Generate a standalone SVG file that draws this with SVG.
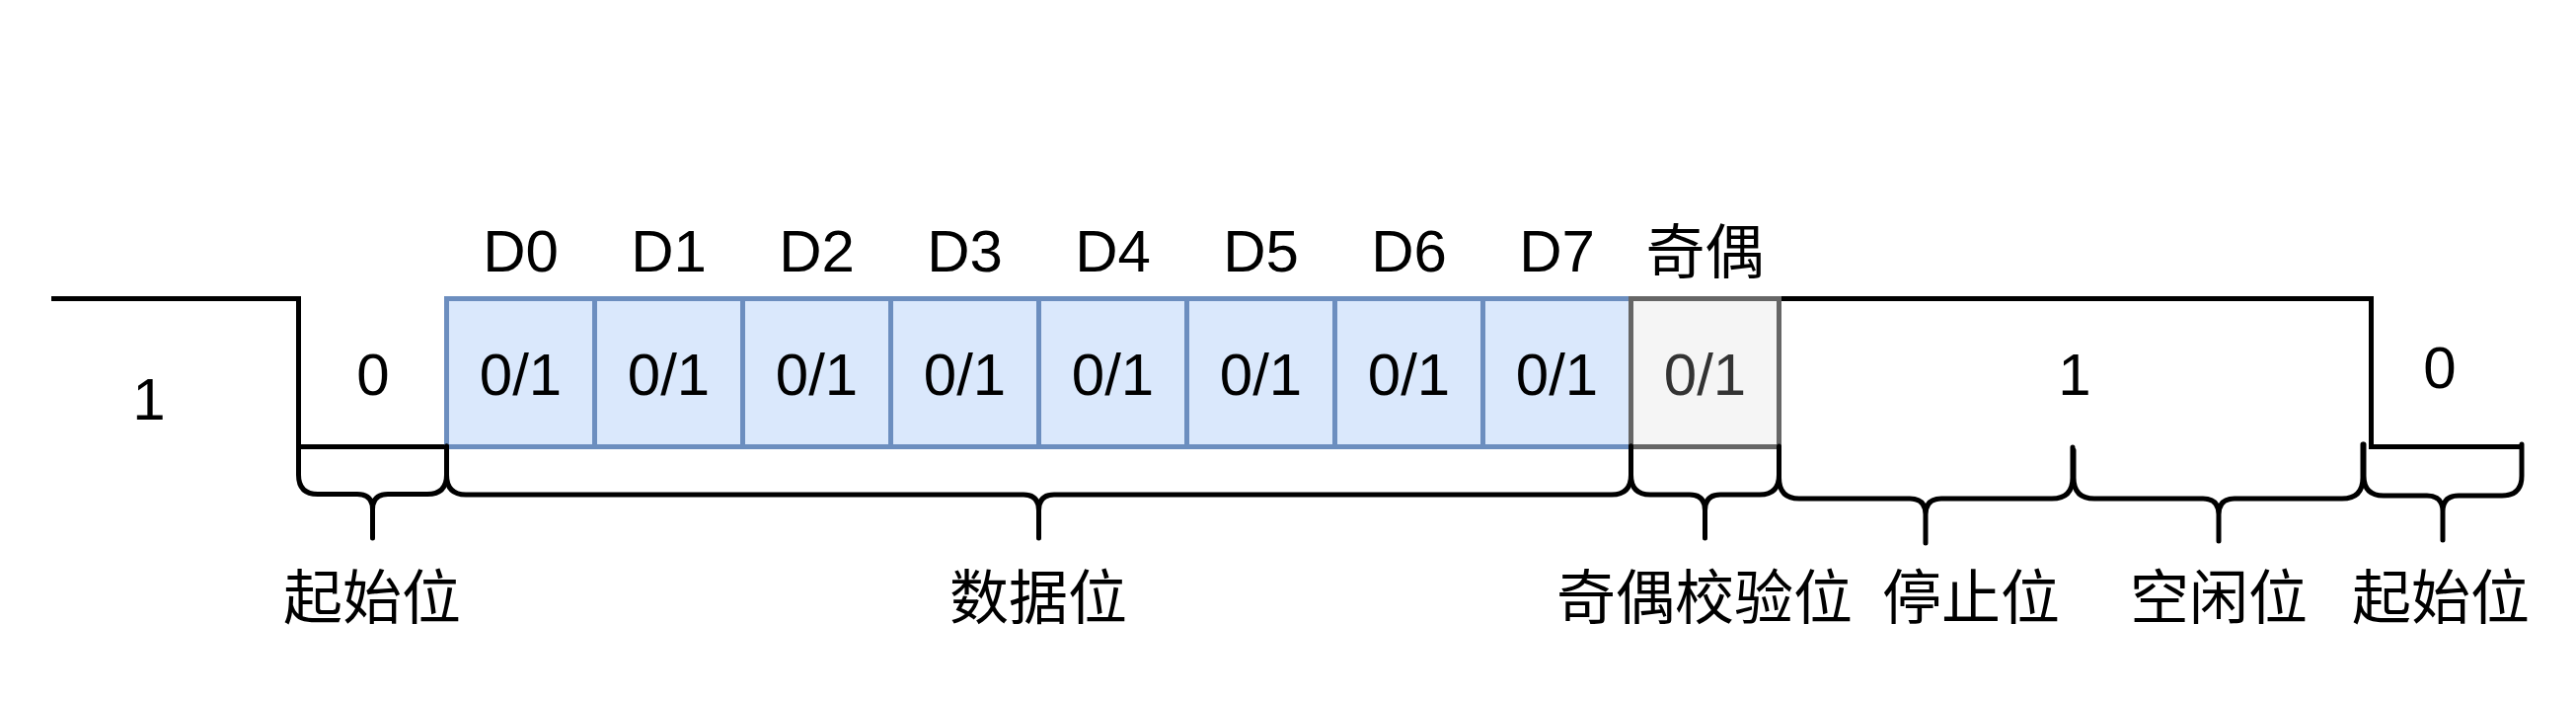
<svg xmlns="http://www.w3.org/2000/svg" width="2610" height="710" viewBox="0 0 2610 710">
<style>
text{font-family:"Liberation Sans","Noto Sans CJK SC",sans-serif;font-size:60px;text-anchor:middle;fill:#000}
.cell{fill:#dae8fc;stroke:#6c8ebf;stroke-width:5}
.par{fill:#f5f5f5;stroke:#666666;stroke-width:5}
.wave{fill:none;stroke:#000;stroke-width:5;stroke-linejoin:miter}
.brace{fill:none;stroke:#000;stroke-width:5;stroke-linecap:round;stroke-linejoin:round}
.gray{fill:#333333}
</style>
<rect width="2610" height="710" fill="#ffffff"/>
<g id="connectors">
<path id="wave-left" class="wave" d="M52,302.5 H302.5 V452.5 H452.5"/>
<path id="wave-right" class="wave" d="M1802.5,302.5 H2402.5 V452.5 H2555"/>
</g>
<g id="level-labels">
<text x="151" y="425">1</text>
<text x="378" y="400">0</text>
<text x="2102" y="400">1</text>
<text x="2472" y="393">0</text>
</g>
<g id="data-bits">
<g id="bit-d0"><rect class="cell" x="452.5" y="302.5" width="150" height="150"/><text x="527.5" y="400">0/1</text><text x="527.5" y="275">D0</text></g>
<g id="bit-d1"><rect class="cell" x="602.5" y="302.5" width="150" height="150"/><text x="677.5" y="400">0/1</text><text x="677.5" y="275">D1</text></g>
<g id="bit-d2"><rect class="cell" x="752.5" y="302.5" width="150" height="150"/><text x="827.5" y="400">0/1</text><text x="827.5" y="275">D2</text></g>
<g id="bit-d3"><rect class="cell" x="902.5" y="302.5" width="150" height="150"/><text x="977.5" y="400">0/1</text><text x="977.5" y="275">D3</text></g>
<g id="bit-d4"><rect class="cell" x="1052.5" y="302.5" width="150" height="150"/><text x="1127.5" y="400">0/1</text><text x="1127.5" y="275">D4</text></g>
<g id="bit-d5"><rect class="cell" x="1202.5" y="302.5" width="150" height="150"/><text x="1277.5" y="400">0/1</text><text x="1277.5" y="275">D5</text></g>
<g id="bit-d6"><rect class="cell" x="1352.5" y="302.5" width="150" height="150"/><text x="1427.5" y="400">0/1</text><text x="1427.5" y="275">D6</text></g>
<g id="bit-d7"><rect class="cell" x="1502.5" y="302.5" width="150" height="150"/><text x="1577.5" y="400">0/1</text><text x="1577.5" y="275">D7</text></g>
</g>
<g id="bit-parity"><rect class="par" x="1652.5" y="302.5" width="150" height="150"/><text class="gray" x="1727.5" y="400">0/1</text><text x="1727.5" y="277">奇偶</text></g>
<g id="brace-start">
<path class="brace" d="M302.5,452 V481 Q302.5,500.5 322,500.5 H362 Q377.5,500.5 377.5,516 V545 M452.5,452 V481 Q452.5,500.5 433,500.5 H393 Q377.5,500.5 377.5,516"/>
<text x="377" y="627">起始位</text>
</g>
<g id="brace-data">
<path class="brace" d="M452.5,452 V481 Q452.5,501 472,501 H1037 Q1052.5,501 1052.5,517 V545 M1652.5,452 V481 Q1652.5,501 1633,501 H1068 Q1052.5,501 1052.5,517"/>
<text x="1052" y="627">数据位</text>
</g>
<g id="brace-parity">
<path class="brace" d="M1652.5,452 V481 Q1652.5,501 1672,501 H1712 Q1727.5,501 1727.5,517 V545 M1802.5,452 V481 Q1802.5,501 1783,501 H1743 Q1727.5,501 1727.5,517"/>
<text x="1727" y="627">奇偶校验位</text>
</g>
<g id="brace-stop">
<path class="brace" d="M1802.5,453 V484 Q1802.5,505 1823,505 H1935 Q1951,505 1951,521 V550 M2100,453 V484 Q2100,505 2079,505 H1967 Q1951,505 1951,521"/>
<text x="1997" y="627">停止位</text>
</g>
<g id="brace-idle">
<path class="brace" d="M2101,456 V484 Q2101,505 2122,505 H2232 Q2248,505 2248,521 V548 M2394,450 V484 Q2394,505 2373,505 H2264 Q2248,505 2248,521"/>
<text x="2248" y="627">空闲位</text>
</g>
<g id="brace-start2">
<path class="brace" d="M2395,450 V482 Q2395,502 2415,502 H2459 Q2475,502 2475,518 V547 M2555,450 V482 Q2555,502 2535,502 H2491 Q2475,502 2475,518"/>
<text x="2473" y="627">起始位</text>
</g>
</svg>
